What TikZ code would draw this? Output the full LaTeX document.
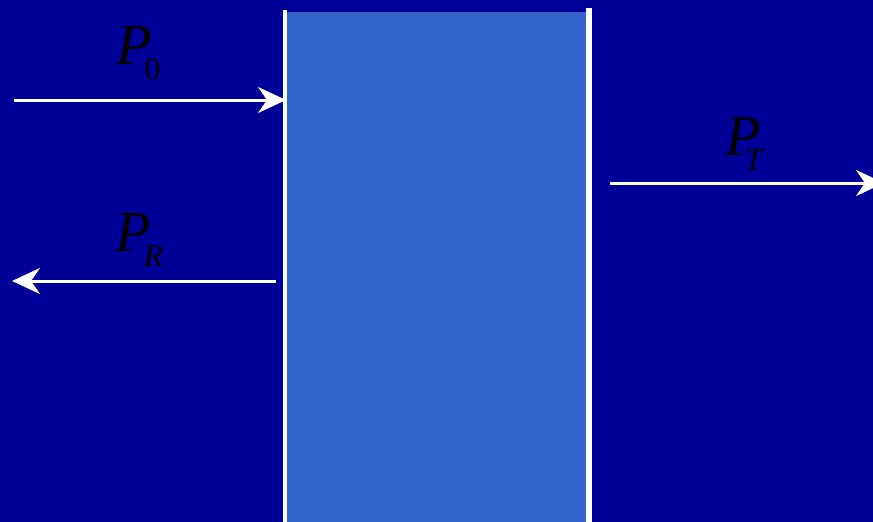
\documentclass[tikz,border=0pt]{standalone}
\usepackage{fontspec}
\setmainfont{Liberation Serif}
\usetikzlibrary{arrows.meta, positioning}
\usepackage{xcolor}
\definecolor{bgblue}{HTML}{000099}
\definecolor{slabblue}{HTML}{3366CC}

\newcommand{\powerlabel}[2][-7pt]{\textit{P}\kern#1\raisebox{-15pt}{\fontsize{32}{32}\selectfont #2}}

\begin{document}
\begin{tikzpicture}[
    x=1pt, y=-1pt,
    wall/.style={draw=white, line width=#1},
    ray/.style={-{Stealth[length=28pt, width=26pt, inset=9pt]}, draw=white, line width=3pt},
    power/.style={inner sep=0pt, anchor=base west, font=\fontsize{58}{58}\selectfont, text=black}
  ]
    \fill[bgblue] (0,0) rectangle (873,522);
    \useasboundingbox (0,0) rectangle (873,522);

    % the slab and its two faces
    \fill[slabblue] (287,12) rectangle (586,522);
    \draw[wall=4.5pt] (285,10) -- (285,522);
    \draw[wall=6pt] (589,8) -- (589,522);

    \coordinate (src) at (14,100);
    \coordinate (front) at (286,100);
    \coordinate (back) at (276,281);
    \coordinate (refl) at (12,281);
    \coordinate (exit) at (610,183);
    \coordinate (far) at (884,183);

    \node[power] (p0) at (116,64) {\powerlabel{0}};
    \node[power] (pr) at (115,251) {\powerlabel{\itshape R}};
    \node[power] (pt) at (725,155) {\powerlabel[-16pt]{\itshape T}};

    \draw[ray] (src) -- (front);
    \draw[ray] (back) -- (refl);
    \draw[ray] (exit) -- (far);
\end{tikzpicture}
\end{document}
